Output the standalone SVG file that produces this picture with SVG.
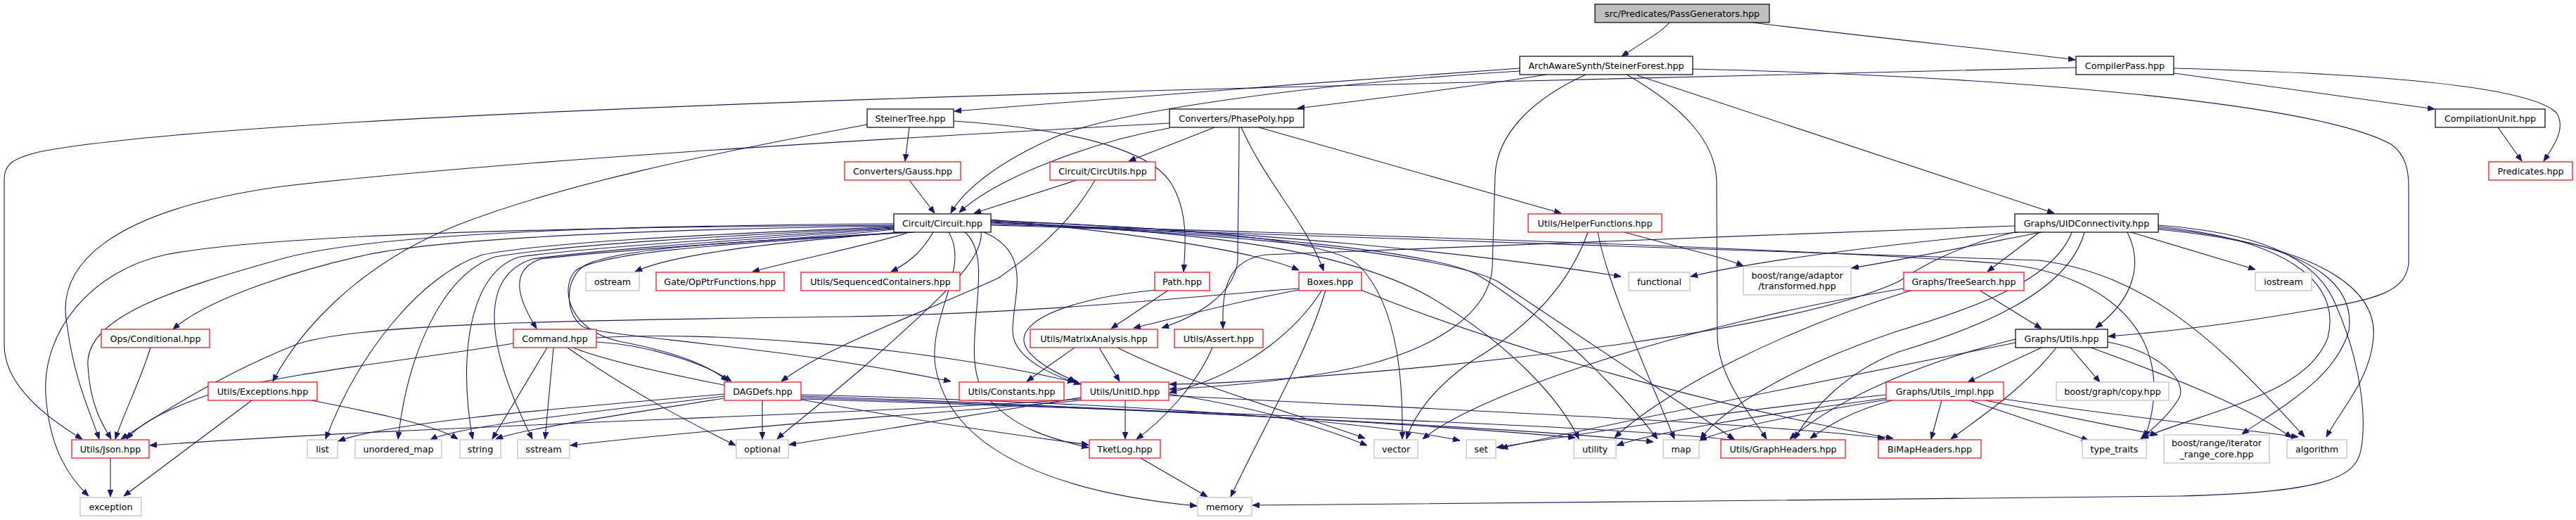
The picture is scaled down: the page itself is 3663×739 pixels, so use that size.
<svg xmlns="http://www.w3.org/2000/svg" width="3663" height="739" viewBox="0 0 3663 739">
<style>
.e{fill:none;stroke:#191970;stroke-width:1.1;marker-end:url(#ah)}
.n rect{fill:#fff;stroke-width:1.2}
.b rect{stroke:#000}
.r rect{stroke:#ff0000}
.g rect{stroke:#bfbfbf}
.root rect{fill:#bfbfbf;stroke:#000}
text{font-family:"DejaVu Sans","Liberation Sans",sans-serif;font-size:12.7px;fill:#000;text-anchor:middle}
</style>
<defs>
<marker id="ah" markerWidth="10" markerHeight="8" refX="10" refY="4" orient="auto" markerUnits="userSpaceOnUse">
<path d="M0,0 L10,4 L0,8 z" fill="#191970" stroke="#191970" stroke-width="0.8"/>
</marker>
</defs>
<rect width="3663" height="739" fill="#fff"/>
<g id="edges">
<path class="e" d="M2374,32 C2362,46 2330,64 2306,80"/>
<path class="e" d="M2492,32 C2650,52 2850,72 2951,85"/>
<path class="e" d="M2161,97 C1900,115 1500,146 1357,158"/>
<path class="e" d="M2199,106 C2100,122 1960,140 1845,154"/>
<path class="e" d="M2161,101 C1850,120 1580,160 1500,195 C1420,230 1370,270 1352,303"/>
<path class="e" d="M2952,96 C2600,104 2200,114 1820,124 C1200,140 300,170 60,215 C15,225 6,235 6,255 L6,490 C6,545 60,590 117,624"/>
<path class="e" d="M2255,106 C2180,140 2128,190 2126,250 L2122,380 C2118,440 2050,500 1900,528 C1800,545 1720,550 1663,553"/>
<path class="e" d="M2313,106 C2390,150 2441,200 2441,260 L2442,480 C2445,540 2490,590 2512,624"/>
<path class="e" d="M2328,107 L2921,303"/>
<path class="e" d="M2407,98 C2900,110 3300,150 3400,205 C3422,220 3425,245 3425,265 L3425,375 C3420,415 3380,425 3290,440 C3150,465 3050,474 2998,478"/>
<path class="e" d="M3091,104 L3462,155"/>
<path class="e" d="M3091,97 C3400,105 3600,125 3635,160 C3650,182 3630,210 3617,229"/>
<path class="e" d="M3552,181 L3586,229"/>
<path class="e" d="M1293,181 L1287,229"/>
<path class="e" d="M1233,177 C1000,220 800,262 650,320 C500,380 420,480 388,542"/>
<path class="e" d="M1356,172 C1550,185 1640,220 1665,260 C1690,300 1686,350 1683,386"/>
<path class="e" d="M1663,175 C1200,200 700,230 400,265 C150,300 80,380 95,460 C105,540 130,590 141,624"/>
<path class="e" d="M1663,182 C1560,200 1420,250 1364,302"/>
<path class="e" d="M1727,181 L1605,229"/>
<path class="e" d="M1762,181 C1762,250 1760,320 1760,370 C1755,420 1700,450 1652,466"/>
<path class="e" d="M1765,181 C1800,260 1860,320 1882,385"/>
<path class="e" d="M1790,181 L2220,303"/>
<path class="e" d="M1293,256 L1329,303"/>
<path class="e" d="M1531,256 L1385,303"/>
<path class="e" d="M1557,256 C1520,320 1470,360 1420,395 C1300,450 1180,490 1111,542"/>
<path class="e" d="M2258,330 C2240,380 2200,450 2093,513 C2040,550 2010,590 2000,624"/>
<path class="e" d="M2272,330 C2285,400 2330,500 2381,624"/>
<path class="e" d="M2310,330 C2400,355 2450,365 2479,378"/>
<path class="e" d="M2900,330 L2826,386"/>
<path class="e" d="M3030,330 L3207,383"/>
<path class="e" d="M3025,330 C3045,370 3040,420 2980,466"/>
<path class="e" d="M2814,412 L2903,467"/>
<path class="e" d="M3069,320 C3200,330 3290,360 3320,430 C3360,520 3365,600 3357,640 C3350,680 3300,700 3100,705 C2700,710 2200,714 1781,718"/>
<path class="e" d="M3069,322 C3250,340 3330,400 3310,480 C3280,560 3150,580 3045,623"/>
<path class="e" d="M3069,324 C3280,345 3350,400 3340,470 C3320,540 3240,580 3188,617"/>
<path class="e" d="M3069,326 C3320,350 3380,420 3375,480 C3370,540 3330,580 3308,621"/>
<path class="e" d="M2865,330 C2780,350 2730,380 2700,400 C2550,470 2100,520 1800,540 C1730,545 1690,546 1663,546"/>
<path class="e" d="M2865,321 C2500,335 2000,352 1800,362 C1740,370 1738,420 1739,467"/>
<path class="e" d="M2903,330 C2800,350 2700,370 2633,381"/>
<path class="e" d="M2870,330 C2700,345 2500,370 2404,393"/>
<path class="e" d="M2946,330 C2920,400 2800,440 2700,470 C2550,520 2450,580 2418,624"/>
<path class="e" d="M2964,330 C2940,420 2800,470 2700,500 C2620,530 2570,590 2552,624"/>
<path class="e" d="M2903,494 L2798,543"/>
<path class="e" d="M2924,494 C2880,550 2820,590 2774,624"/>
<path class="e" d="M2944,494 L2986,543"/>
<path class="e" d="M2973,494 C3100,540 3200,580 3259,622"/>
<path class="e" d="M2997,486 C3070,500 3110,540 3099,565 C3085,590 3060,610 3044,624"/>
<path class="e" d="M2866,482 C2750,510 2620,560 2545,624"/>
<path class="e" d="M2866,487 C2600,540 2300,600 2134,637"/>
<path class="e" d="M2761,569 L2746,624"/>
<path class="e" d="M2801,569 L2970,626"/>
<path class="e" d="M2823,569 L3068,618"/>
<path class="e" d="M2849,567 C3000,590 3150,605 3268,621"/>
<path class="e" d="M2690,569 C2630,585 2600,605 2574,623"/>
<path class="e" d="M2682,566 C2500,590 2350,615 2299,633"/>
<path class="e" d="M2682,568 C2550,590 2450,610 2417,626"/>
<path class="e" d="M2682,561 C2400,590 2200,625 2128,636"/>
<path class="e" d="M2707,410 C2400,460 2100,560 2023,624"/>
<path class="e" d="M2720,412 C2500,480 2350,570 2296,622"/>
<path class="e" d="M730,488 C600,510 400,530 300,560 C240,580 200,600 180,624"/>
<path class="e" d="M778,494 L700,624"/>
<path class="e" d="M787,494 L775,624"/>
<path class="e" d="M848,486 C920,490 1000,515 1040,542"/>
<path class="e" d="M848,480 C1000,470 1300,490 1528,543"/>
<path class="e" d="M815,494 C900,530 1300,600 1548,632"/>
<path class="e" d="M807,494 C900,560 1000,610 1046,633"/>
<path class="e" d="M1084,569 L1084,624"/>
<path class="e" d="M1030,560 C800,580 550,600 481,627"/>
<path class="e" d="M1030,563 C850,585 650,605 612,625"/>
<path class="e" d="M1030,566 C880,590 740,610 705,624"/>
<path class="e" d="M1139,561 C1500,570 1900,590 2076,626"/>
<path class="e" d="M1139,563 C1500,575 2000,600 2240,622"/>
<path class="e" d="M1139,565 C1600,580 2200,610 2351,628"/>
<path class="e" d="M1139,567 C1700,585 2300,605 2469,626"/>
<path class="e" d="M1600,569 L1600,624"/>
<path class="e" d="M1537,565 L1122,632"/>
<path class="e" d="M1537,567 C1200,590 600,605 213,633"/>
<path class="e" d="M1537,569 C1300,590 1000,610 811,633"/>
<path class="e" d="M1662,560 C1800,580 1900,615 1944,633"/>
<path class="e" d="M1662,562 C2000,580 2500,600 2680,623"/>
<path class="e" d="M1528,494 L1460,542"/>
<path class="e" d="M1563,494 L1592,542"/>
<path class="e" d="M1589,494 C1700,550 1850,590 1941,623"/>
<path class="e" d="M1724,494 C1700,550 1650,600 1616,624"/>
<path class="e" d="M1662,412 L1580,467"/>
<path class="e" d="M1645,412 C1560,420 1480,440 1460,470 C1440,500 1500,530 1530,542"/>
<path class="e" d="M1847,410 C1700,420 1500,445 1200,450 C800,455 500,460 420,490 C320,530 240,580 172,624"/>
<path class="e" d="M1847,412 C1750,430 1680,450 1612,466"/>
<path class="e" d="M1880,412 C1850,460 1780,530 1663,558"/>
<path class="e" d="M1885,412 C1860,500 1800,600 1750,706"/>
<path class="e" d="M1935,412 C2200,520 2550,600 2692,623"/>
<path class="e" d="M1622,651 L1717,706"/>
<path class="e" d="M358,569 L176,705"/>
<path class="e" d="M443,569 C550,590 620,605 651,624"/>
<path class="e" d="M157,651 L157,706"/>
<path class="e" d="M214,494 C200,540 175,590 164,624"/>
<path class="e" d="M1271,318 C1000,320 550,325 400,368 C250,410 120,450 125,520 C128,580 150,610 158,624"/>
<path class="e" d="M1271,320 C900,322 400,330 235,362 C130,385 60,470 65,560 C70,640 100,680 126,705"/>
<path class="e" d="M1271,321 C1000,325 650,335 522,362 C440,380 300,420 246,468"/>
<path class="e" d="M1271,322 C1100,330 800,340 686,362 C600,390 510,500 463,624"/>
<path class="e" d="M1271,323 C1100,332 820,345 704,365 C630,390 580,500 566,624"/>
<path class="e" d="M1271,324 C1100,335 850,350 739,365 C670,385 650,500 672,624"/>
<path class="e" d="M1271,325 C1100,338 880,352 757,368 C690,390 680,470 757,624"/>
<path class="e" d="M1271,326 C1150,340 900,352 769,368 C720,385 740,430 763,467"/>
<path class="e" d="M1280,330 C1100,345 960,360 903,386"/>
<path class="e" d="M1293,330 C1250,345 1150,365 1070,386"/>
<path class="e" d="M1327,330 C1315,350 1300,370 1267,386"/>
<path class="e" d="M1409,312 C1600,330 1780,355 1847,384"/>
<path class="e" d="M1409,313 C1800,330 2100,360 2305,393"/>
<path class="e" d="M1409,314 C1700,325 1900,340 1935,380 C1990,440 1995,550 1994,624"/>
<path class="e" d="M1409,315 C1700,330 1900,350 2030,420 C2150,490 2220,570 2245,624"/>
<path class="e" d="M1409,316 C1750,330 2030,355 2100,390 C2200,450 2300,550 2357,624"/>
<path class="e" d="M1409,317 C1750,332 2050,360 2130,400 C2250,480 2400,580 2466,624"/>
<path class="e" d="M1409,319 C2000,335 2600,355 2850,375 C3000,390 3100,480 3050,622"/>
<path class="e" d="M1409,320 C2000,337 2600,358 2900,370 C3050,390 3150,480 3277,621"/>
<path class="e" d="M1399,330 C1470,360 1440,420 1440,470 C1440,510 1500,535 1537,546"/>
<path class="e" d="M1372,330 C1420,370 1360,500 1400,560 C1440,610 1500,625 1548,636"/>
<path class="e" d="M1349,330 C1380,380 1320,450 1330,520 C1350,640 1500,700 1702,719"/>
<path class="e" d="M1395,330 C1400,370 1330,430 1230,520 C1160,580 1120,610 1105,624"/>
<path class="e" d="M1300,330 C1000,345 870,355 830,378 C800,400 805,450 830,465 C870,480 1100,490 1352,542"/>
<path class="e" d="M1295,330 C1000,348 850,360 818,385 C795,410 810,470 880,485 C960,500 1010,520 1035,542"/>
</g>
<g id="n_pg" class="n root"><rect x="2268" y="6" width="248" height="26"/><text x="2392" y="23.5">src/Predicates/PassGenerators.hpp</text></g>
<g id="n_sf" class="n b"><rect x="2161" y="80" width="246" height="26"/><text x="2284" y="97.5">ArchAwareSynth/SteinerForest.hpp</text></g>
<g id="n_cp" class="n b"><rect x="2952" y="80" width="139" height="26"/><text x="3021.5" y="97.5">CompilerPass.hpp</text></g>
<g id="n_st" class="n b"><rect x="1233" y="155" width="123" height="26"/><text x="1294.5" y="172.5">SteinerTree.hpp</text></g>
<g id="n_pp" class="n b"><rect x="1663" y="155" width="191" height="26"/><text x="1758.5" y="172.5">Converters/PhasePoly.hpp</text></g>
<g id="n_cu" class="n b"><rect x="3463" y="155" width="156" height="26"/><text x="3541" y="172.5">CompilationUnit.hpp</text></g>
<g id="n_gauss" class="n r"><rect x="1201" y="230" width="165" height="26"/><text x="1283.5" y="247.5">Converters/Gauss.hpp</text></g>
<g id="n_circutils" class="n r"><rect x="1493" y="230" width="150" height="26"/><text x="1568" y="247.5">Circuit/CircUtils.hpp</text></g>
<g id="n_pred" class="n r"><rect x="3539" y="230" width="119" height="26"/><text x="3598.5" y="247.5">Predicates.hpp</text></g>
<g id="n_circ" class="n b"><rect x="1271" y="304" width="138" height="26"/><text x="1340" y="321.5">Circuit/Circuit.hpp</text></g>
<g id="n_hf" class="n r"><rect x="2173" y="304" width="190" height="26"/><text x="2268" y="321.5">Utils/HelperFunctions.hpp</text></g>
<g id="n_uid" class="n b"><rect x="2865" y="304" width="204" height="26"/><text x="2967" y="321.5">Graphs/UIDConnectivity.hpp</text></g>
<g id="n_ostream" class="n g"><rect x="833" y="387" width="76" height="26"/><text x="871" y="404.5">ostream</text></g>
<g id="n_opptr" class="n r"><rect x="933" y="387" width="182" height="26"/><text x="1024" y="404.5">Gate/OpPtrFunctions.hpp</text></g>
<g id="n_seqcont" class="n r"><rect x="1139" y="387" width="226" height="26"/><text x="1252" y="404.5">Utils/SequencedContainers.hpp</text></g>
<g id="n_path" class="n r"><rect x="1642" y="387" width="78" height="26"/><text x="1681" y="404.5">Path.hpp</text></g>
<g id="n_boxes" class="n r"><rect x="1847" y="387" width="89" height="26"/><text x="1891.5" y="404.5">Boxes.hpp</text></g>
<g id="n_functional" class="n g"><rect x="2316" y="387" width="87" height="26"/><text x="2359.5" y="404.5">functional</text></g>
<g id="n_adaptor" class="n g"><rect x="2479" y="379" width="153" height="40"/><text x="2555.5" y="395.5">boost/range/adaptor</text><text x="2555.5" y="410.5">/transformed.hpp</text></g>
<g id="n_treesearch" class="n r"><rect x="2707" y="387" width="171" height="26"/><text x="2792.5" y="404.5">Graphs/TreeSearch.hpp</text></g>
<g id="n_iostream" class="n g"><rect x="3207" y="387" width="80" height="26"/><text x="3247" y="404.5">iostream</text></g>
<g id="n_conditional" class="n r"><rect x="144" y="468" width="154" height="26"/><text x="221" y="485.5">Ops/Conditional.hpp</text></g>
<g id="n_command" class="n r"><rect x="730" y="468" width="118" height="26"/><text x="789" y="485.5">Command.hpp</text></g>
<g id="n_matrix" class="n r"><rect x="1465" y="468" width="181" height="26"/><text x="1555.5" y="485.5">Utils/MatrixAnalysis.hpp</text></g>
<g id="n_assert" class="n r"><rect x="1670" y="468" width="126" height="26"/><text x="1733" y="485.5">Utils/Assert.hpp</text></g>
<g id="n_gutils" class="n b"><rect x="2866" y="468" width="131" height="26"/><text x="2931.5" y="485.5">Graphs/Utils.hpp</text></g>
<g id="n_exceptions" class="n r"><rect x="296" y="543" width="155" height="26"/><text x="373.5" y="560.5">Utils/Exceptions.hpp</text></g>
<g id="n_dagdefs" class="n r"><rect x="1030" y="543" width="109" height="26"/><text x="1084.5" y="560.5">DAGDefs.hpp</text></g>
<g id="n_constants" class="n r"><rect x="1364" y="543" width="149" height="26"/><text x="1438.5" y="560.5">Utils/Constants.hpp</text></g>
<g id="n_unitid" class="n r"><rect x="1537" y="543" width="125" height="26"/><text x="1599.5" y="560.5">Utils/UnitID.hpp</text></g>
<g id="n_utilsimpl" class="n r"><rect x="2682" y="543" width="167" height="26"/><text x="2765.5" y="560.5">Graphs/Utils_impl.hpp</text></g>
<g id="n_copy" class="n g"><rect x="2924" y="543" width="160" height="26"/><text x="3004" y="560.5">boost/graph/copy.hpp</text></g>
<g id="n_json" class="n r"><rect x="102" y="625" width="110" height="26"/><text x="157" y="642.5">Utils/Json.hpp</text></g>
<g id="n_list" class="n g"><rect x="437" y="625" width="43" height="26"/><text x="458.5" y="642.5">list</text></g>
<g id="n_umap" class="n g"><rect x="505" y="625" width="123" height="26"/><text x="566.5" y="642.5">unordered_map</text></g>
<g id="n_string" class="n g"><rect x="654" y="625" width="58" height="26"/><text x="683" y="642.5">string</text></g>
<g id="n_sstream" class="n g"><rect x="736" y="625" width="74" height="26"/><text x="773" y="642.5">sstream</text></g>
<g id="n_optional" class="n g"><rect x="1047" y="625" width="74" height="26"/><text x="1084" y="642.5">optional</text></g>
<g id="n_tketlog" class="n r"><rect x="1549" y="625" width="101" height="26"/><text x="1599.5" y="642.5">TketLog.hpp</text></g>
<g id="n_vector" class="n g"><rect x="1954" y="625" width="62" height="26"/><text x="1985" y="642.5">vector</text></g>
<g id="n_set" class="n g"><rect x="2085" y="625" width="42" height="26"/><text x="2106" y="642.5">set</text></g>
<g id="n_utility" class="n g"><rect x="2238" y="625" width="60" height="26"/><text x="2268" y="642.5">utility</text></g>
<g id="n_map" class="n g"><rect x="2365" y="625" width="51" height="26"/><text x="2390.5" y="642.5">map</text></g>
<g id="n_graphheaders" class="n r"><rect x="2447" y="625" width="177" height="26"/><text x="2535.5" y="642.5">Utils/GraphHeaders.hpp</text></g>
<g id="n_bimap" class="n r"><rect x="2671" y="625" width="146" height="26"/><text x="2744" y="642.5">BiMapHeaders.hpp</text></g>
<g id="n_typetraits" class="n g"><rect x="2961" y="625" width="91" height="26"/><text x="3006.5" y="642.5">type_traits</text></g>
<g id="n_iterrange" class="n g"><rect x="3077" y="618" width="150" height="40"/><text x="3152" y="634">boost/range/iterator</text><text x="3152" y="649.5">_range_core.hpp</text></g>
<g id="n_algorithm" class="n g"><rect x="3252" y="625" width="85" height="26"/><text x="3294.5" y="642.5">algorithm</text></g>
<g id="n_exception" class="n g"><rect x="114" y="707" width="87" height="26"/><text x="157.5" y="724.5">exception</text></g>
<g id="n_memory" class="n g"><rect x="1703" y="707" width="77" height="26"/><text x="1741.5" y="724.5">memory</text></g>
</svg>
